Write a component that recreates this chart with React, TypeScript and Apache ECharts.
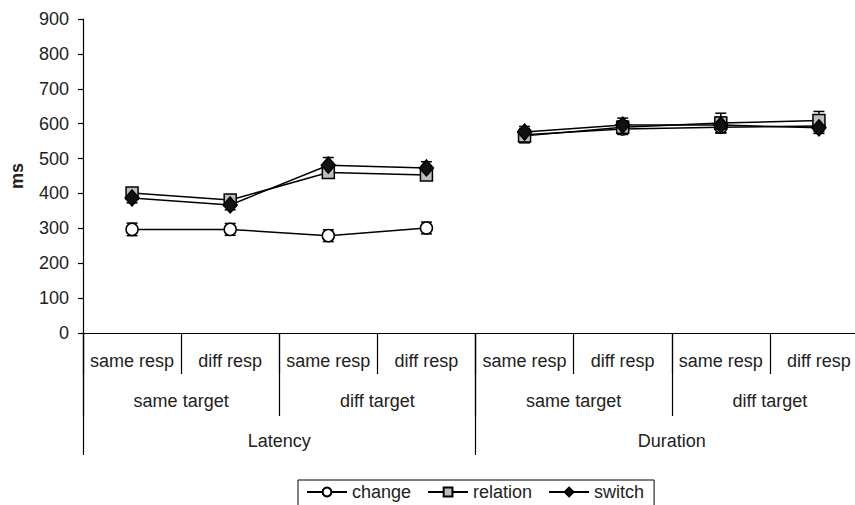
import React, { useEffect, useRef } from "react";
import * as echarts from "echarts";

// Three-level category axis: response / target / measure
const responseLabels = ["same resp", "diff resp", "same resp", "diff resp", "same resp", "diff resp", "same resp", "diff resp"];
const targetLabels = ["same target", "diff target", "same target", "diff target"];
const measureLabels = ["Latency", "Duration"];

// Means (ms) and error half-widths per condition
const changeMean = [297, 297, 279, 301, 568, 585, 590, 593];
const changeErr = [18, 17, 17, 17, 18, 16, 16, 16];
const relationMean = [401, 381, 460, 453, 565, 590, 602, 609];
const relationErr = [12, 12, 16, 14, 20, 18, 28, 26];
const switchMean = [387, 367, 481, 473, 576, 596, 596, 588];
const switchErr = [14, 14, 22, 18, 16, 20, 22, 16];

const yTicks = { min: 0, max: 900, interval: 100 };

const FONT = "'Liberation Sans', Arial, sans-serif";
const TEXT = "#222";

type SeriesDef = {
  name: string;
  mean: number[];
  err: number[];
  symbol: string;
  symbolSize: number | number[];
  fill: string;
};

const seriesDefs: SeriesDef[] = [
  { name: "change", mean: changeMean, err: changeErr, symbol: "circle", symbolSize: 12, fill: "#ffffff" },
  { name: "relation", mean: relationMean, err: relationErr, symbol: "rect", symbolSize: 12, fill: "#bdbdbd" },
  { name: "switch", mean: switchMean, err: switchErr, symbol: "diamond", symbolSize: [14, 16], fill: "#111111" },
];

// split each series into the two measure blocks so lines break between them
function half(values: number[], block: number): (number | string)[] {
  return values.map((v, i) => (Math.floor(i / 4) === block ? v : "-"));
}

export default function App() {
  const ref = useRef<HTMLDivElement>(null);

  useEffect(() => {
    if (!ref.current) return;
    const chart = echarts.init(ref.current, null, { renderer: "svg" });

    const errorSeries = seriesDefs.map((s) => ({
      type: "custom",
      name: s.name + " error",
      xAxisIndex: 0,
      yAxisIndex: 0,
      z: 1,
      silent: true,
      data: s.mean.map((m, i) => [i, m, s.err[i]]),
      encode: { x: 0, y: 1 },
      renderItem: (_params: any, api: any) => {
        const idx = api.value(0);
        const m = api.value(1);
        const e = api.value(2);
        const top = api.coord([idx, m + e]);
        const bot = api.coord([idx, m - e]);
        const cap = 5.5;
        const style = { stroke: "#000", lineWidth: 1.5 };
        return {
          type: "group",
          children: [
            { type: "line", shape: { x1: top[0], y1: top[1], x2: bot[0], y2: bot[1] }, style },
            { type: "line", shape: { x1: top[0] - cap, y1: top[1], x2: top[0] + cap, y2: top[1] }, style },
            { type: "line", shape: { x1: bot[0] - cap, y1: bot[1], x2: bot[0] + cap, y2: bot[1] }, style },
          ],
        };
      },
    }));

    const lineSeries: any[] = [];
    seriesDefs.forEach((s, k) => {
      [0, 1].forEach((block) => {
        lineSeries.push({
          type: "line",
          name: s.name,
          xAxisIndex: 0,
          yAxisIndex: 0,
          z: 3 + k,
          data: half(s.mean, block),
          connectNulls: false,
          symbol: s.symbol,
          symbolSize: s.symbolSize,
          showAllSymbol: true,
          lineStyle: { color: "#000", width: 1.5 },
          itemStyle: { color: s.fill, borderColor: "#000", borderWidth: 1.5 },
        });
      });
    });

    const catAxis = (data: string[], tickLen: number, labelMargin: number, showLine: boolean) => ({
      type: "category",
      position: "bottom",
      gridIndex: 0,
      data,
      boundaryGap: true,
      axisLine: { show: showLine, onZero: false, lineStyle: { color: "#000", width: 1.2 } },
      axisTick: { show: true, interval: 0, length: tickLen, lineStyle: { color: "#000", width: 1.2 } },
      axisLabel: { interval: 0, margin: labelMargin, color: TEXT, fontSize: 18, fontFamily: FONT },
      splitLine: { show: false },
    });

    chart.setOption({
      animation: false,
      textStyle: { fontFamily: FONT },
      // plot area runs past the visible right edge (the last band is clipped)
      grid: { left: 81, top: 19, right: 12, bottom: 172, containLabel: false },
      legend: {
        data: seriesDefs.map((s) => s.name),
        left: 298,
        top: 480,
        borderColor: "#000",
        borderWidth: 1,
        padding: [3, 10, 6, 8],
        itemGap: 16,
        itemWidth: 40,
        itemHeight: 11,
        textStyle: { color: TEXT, fontSize: 18, fontFamily: FONT },
      },
      xAxis: [
        catAxis(responseLabels, 41, 19, true),
        catAxis(targetLabels, 83, 59, false),
        catAxis(measureLabels, 122, 99, false),
      ],
      yAxis: {
        type: "value",
        min: yTicks.min,
        max: yTicks.max,
        interval: yTicks.interval,
        name: "ms",
        nameLocation: "middle",
        nameRotate: 90,
        nameGap: 57,
        nameTextStyle: { color: TEXT, fontSize: 18, fontWeight: "bold", fontFamily: FONT },
        axisLine: { show: true, lineStyle: { color: "#000", width: 1.2 } },
        axisTick: { show: true, length: 5, lineStyle: { color: "#000", width: 1.2 } },
        axisLabel: { margin: 14, color: TEXT, fontSize: 18, fontFamily: FONT },
        splitLine: { show: false },
      },
      series: [...errorSeries, ...lineSeries],
    });

    return () => chart.dispose();
  }, []);

  return (
    <div style={{ position: "fixed", left: 0, top: 0, width: 855, height: 505, overflow: "hidden", background: "#fff" }}>
      <div ref={ref} style={{ width: 880, height: 505 }} />
    </div>
  );
}
